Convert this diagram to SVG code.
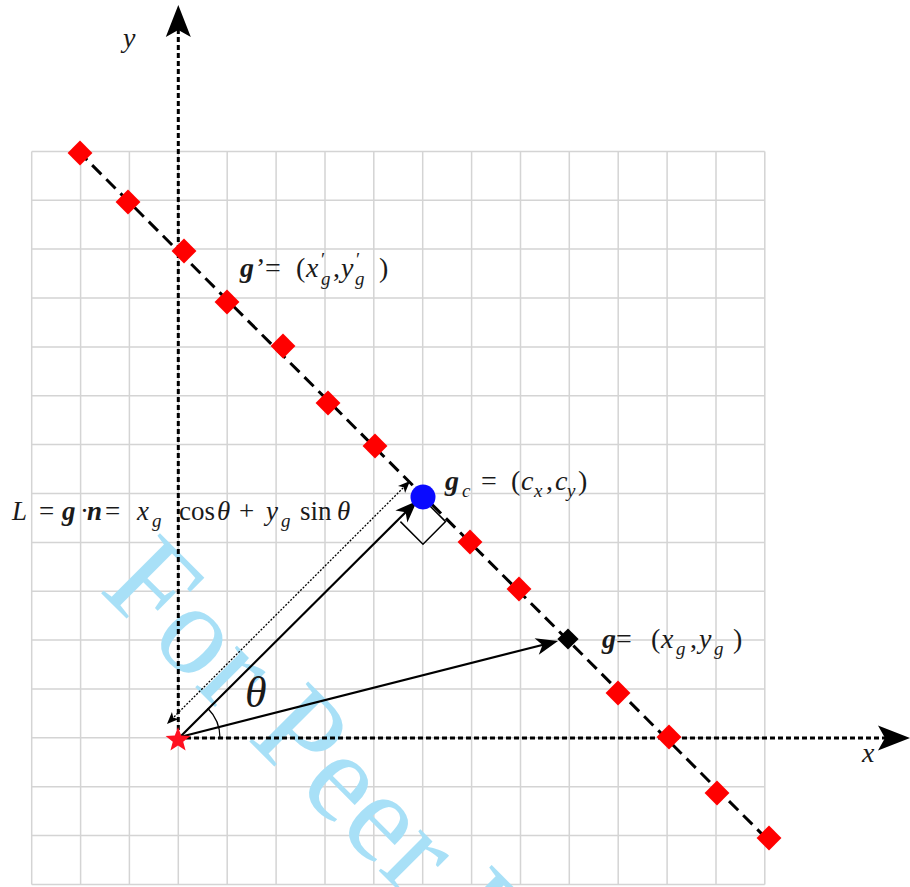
<svg xmlns="http://www.w3.org/2000/svg" width="910" height="887" viewBox="0 0 910 887">
<style>
.m{font-family:"Liberation Serif","DejaVu Serif",serif;font-size:28px;fill:#1a1a1a}
.i{font-style:italic}
.b{font-weight:bold;font-style:italic}
.s{font-size:19px}
.grid{stroke:#d4d4d4;stroke-width:1.5;fill:none}
.axis{stroke:#000;stroke-width:3;stroke-dasharray:5 3;fill:none}
.vec{stroke:#000;stroke-width:2.2;fill:none}
.wm{font-family:"Liberation Serif","DejaVu Serif",serif;font-size:128px;fill:#a8e0f7}
</style>
<defs>
<marker id="big" markerUnits="userSpaceOnUse" markerWidth="40" markerHeight="30" refX="-10" refY="0" orient="auto" overflow="visible"><path d="M0,0 L-32,-12.5 L-25,0 L-32,12.5 Z" fill="#000"/></marker>
<marker id="ah" markerUnits="userSpaceOnUse" markerWidth="30" markerHeight="20" refX="-6" refY="0" orient="auto" overflow="visible"><path d="M0,0 L-22,-8.5 L-16,0 L-22,8.5 Z" fill="#000"/></marker>
<marker id="sm" markerUnits="userSpaceOnUse" markerWidth="20" markerHeight="12" refX="-3" refY="0" orient="auto-start-reverse" overflow="visible"><path d="M0,0 L-12,-5 L-9,0 L-12,5 Z" fill="#000"/></marker>
<rect id="dm" x="-8.8" y="-8.8" width="17.6" height="17.6" transform="rotate(45)" fill="#ff0000"/>
</defs>
<rect width="910" height="887" fill="#fff"/>
<g id="grid">
<path class="grid" d="M31.7 151.4V884.4M80.6 151.4V884.4M129.4 151.4V884.4M178.3 151.4V884.4M227.2 151.4V884.4M276.1 151.4V884.4M325 151.4V884.4M373.8 151.4V884.4M422.7 151.4V884.4M471.6 151.4V884.4M520.5 151.4V884.4M569.3 151.4V884.4M618.2 151.4V884.4M667.1 151.4V884.4M716 151.4V884.4M764.8 151.4V884.4M31.7 151.4H764.8M31.7 200.2H764.8M31.7 249.1H764.8M31.7 298H764.8M31.7 346.9H764.8M31.7 395.8H764.8M31.7 444.6H764.8M31.7 493.5H764.8M31.7 542.4H764.8M31.7 591.3H764.8M31.7 640.1H764.8M31.7 689H764.8M31.7 737.8H764.8M31.7 786.7H764.8M31.7 835.6H764.8M31.7 884.4H764.8"/>
</g>
<text class="wm" x="98" y="590" transform="rotate(45 98 590)">For Peer Review</text>
<g id="connectors">
<line class="axis" x1="178.3" y1="738" x2="178.3" y2="15" marker-end="url(#big)"/>
<line class="axis" x1="178" y1="738" x2="900" y2="738" marker-end="url(#big)"/>
<path d="M78 151L770 842" stroke="#000" stroke-width="3" stroke-dasharray="13 7" fill="none"/>
<line class="vec" x1="180" y1="737" x2="412.7" y2="505.2" marker-end="url(#ah)"/>
<line class="vec" x1="180" y1="737" x2="552.2" y2="642.5" marker-end="url(#ah)"/>
<line x1="169.1" y1="721.9" x2="407.9" y2="483.1" stroke="#000" stroke-width="1.3" stroke-dasharray="2 1.5" marker-start="url(#sm)" marker-end="url(#sm)"/>
<path d="M220 738A42 42 0 0 0 207.7 708.3" stroke="#000" stroke-width="1.3" fill="none"/>
<path d="M423 499L445.6 521.6L423 544.2L400.4 521.6" stroke="#000" stroke-width="1.5" fill="none"/>
</g>
<g id="points">
<use href="#dm" x="80" y="153"/>
<use href="#dm" x="128" y="202"/>
<use href="#dm" x="184" y="251"/>
<use href="#dm" x="227" y="302"/>
<use href="#dm" x="283" y="346"/>
<use href="#dm" x="328" y="403"/>
<use href="#dm" x="375" y="446"/>
<use href="#dm" x="470" y="542"/>
<use href="#dm" x="519" y="589"/>
<use href="#dm" x="618" y="693"/>
<use href="#dm" x="669" y="737"/>
<use href="#dm" x="717" y="793"/>
<use href="#dm" x="769" y="838"/>
</g>
<g id="gc"><circle cx="423" cy="497" r="12.5" fill="#0a0aff"/></g>
<g id="g"><rect x="-7.5" y="-7.5" width="15" height="15" transform="translate(568 639) rotate(45)" fill="#000"/></g>
<g id="origin"><polygon points="178,727 181.2,735.6 190.4,736 183.2,741.7 185.6,750.5 178,745.4 170.4,750.5 172.8,741.7 165.6,736 174.8,735.6" fill="#ff1020"/></g>
<g id="labels">
<text class="m i" x="123" y="47" font-size="26">y</text>
<text class="m i" x="862" y="762" font-size="26">x</text>
<text class="m i" x="245" y="707" style="font-size:44px">θ</text>
<text class="m" y="277"><tspan class="b" x="240">g</tspan><tspan x="256">’</tspan><tspan x="265">=</tspan><tspan x="296">(</tspan><tspan class="i" x="306">x</tspan><tspan class="s" x="321" y="266">′</tspan><tspan class="s i" x="321" y="285">g</tspan><tspan x="333" y="277">,</tspan><tspan class="i" x="341">y</tspan><tspan class="s" x="356" y="266">′</tspan><tspan class="s i" x="355" y="285">g</tspan><tspan x="379" y="277">)</tspan></text>
<text class="m" y="490"><tspan class="b" x="445">g</tspan><tspan class="s i" x="462" y="497">c</tspan><tspan x="481" y="490">=</tspan><tspan x="511">(</tspan><tspan class="i" x="521">c</tspan><tspan class="s i" x="534" y="497">x</tspan><tspan x="546" y="490">,</tspan><tspan class="i" x="555">c</tspan><tspan class="s i" x="567" y="497">y</tspan><tspan x="578" y="490">)</tspan></text>
<text class="m" y="648"><tspan class="b" x="602">g</tspan><tspan x="616">=</tspan><tspan x="651">(</tspan><tspan class="i" x="661">x</tspan><tspan class="s i" x="676" y="655">g</tspan><tspan x="690" y="648">,</tspan><tspan class="i" x="699">y</tspan><tspan class="s i" x="714" y="655">g</tspan><tspan x="733" y="648">)</tspan></text>
<text class="m" y="520" style="font-size:27px"><tspan class="i" x="12">L</tspan><tspan x="39">=</tspan><tspan class="b" x="62">g</tspan><tspan x="80">·</tspan><tspan class="b" x="87">n</tspan><tspan x="105">=</tspan><tspan class="i" x="137">x</tspan><tspan class="s i" x="152" y="527">g</tspan><tspan x="179" y="520">cos</tspan><tspan class="i" x="217">θ</tspan><tspan x="239">+</tspan><tspan class="i" x="266">y</tspan><tspan class="s i" x="281" y="527">g</tspan><tspan x="300" y="520">sin</tspan><tspan class="i" x="337">θ</tspan></text>
</g>
</svg>
